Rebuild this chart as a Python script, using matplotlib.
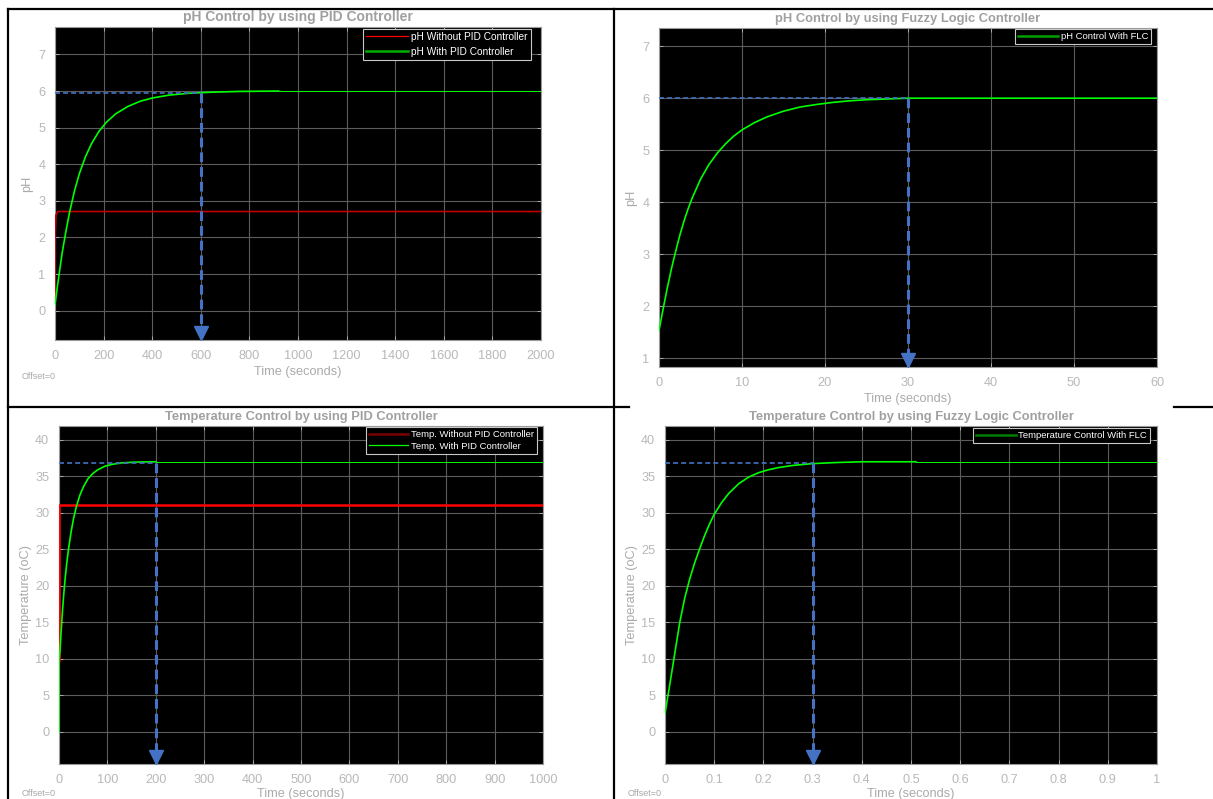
import matplotlib
matplotlib.use("Agg")
import matplotlib.pyplot as plt
from matplotlib.lines import Line2D
from matplotlib.transforms import offset_copy

plt.rcParams['font.family'] = ['Liberation Sans', 'DejaVu Sans']
plt.rcParams['lines.scale_dashes'] = False

# ---- data ----
# pH, PID (seconds)
ph_pid_t = [0, 10, 20, 30, 45, 60, 80, 100, 125, 150, 180, 210, 250, 300, 350, 400, 470, 550,
            650, 760, 920]
ph_pid_y = [0.16, 0.67, 1.14, 1.6, 2.17, 2.69, 3.27, 3.74, 4.2, 4.56, 4.89, 5.14, 5.38, 5.58,
            5.72, 5.81, 5.89, 5.94, 5.97, 5.99, 6.0]
ph_open_t = [0, 0, 2, 4, 12, 2000]
ph_open_y = [0.3, 2.0, 2.3, 2.62, 2.71, 2.71]
ph_pid_tail_t = [920, 2000]
ph_pid_tail_y = [6.0, 6.0]
ph_pid_settle = (600, 5.95)

# pH, FLC (seconds)
ph_flc_t = [0, 0.5, 1, 1.5, 2, 2.5, 3, 3.5, 4, 5, 6, 7, 8, 9, 10, 11.5, 13, 15, 17, 19, 21, 23,
            25, 27.5, 30, 35, 60]
ph_flc_y = [1.53, 1.95, 2.35, 2.72, 3.05, 3.36, 3.63, 3.87, 4.08, 4.44, 4.72, 4.94, 5.12, 5.27,
            5.39, 5.53, 5.64, 5.75, 5.83, 5.88, 5.92, 5.95, 5.97, 5.985, 6.0, 6.0, 6.0]
ph_flc_settle = (30, 6.0)

# Temperature, PID (seconds)
temp_pid_t = [0, 0, 2, 4, 6, 8, 10, 13, 16, 20, 25, 30, 36, 43, 50, 60, 70, 80, 95, 110, 130,
              155, 200]
temp_pid_y = [0, 9.9, 11.0, 13.3, 15.4, 17.3, 19.0, 21.2, 23.1, 25.2, 27.4, 29.2, 30.9, 32.4,
              33.5, 34.7, 35.4, 35.9, 36.4, 36.65, 36.85, 36.95, 37.0]
temp_open_t = [1, 1, 1000]
temp_open_y = [9.8, 31.1, 31.1]
temp_pid_tail_t = [200, 1000]
temp_pid_tail_y = [37.0, 37.0]
temp_pid_settle = (200, 36.9)

# Temperature, FLC (seconds)
temp_flc_t = [0, 0.01, 0.02, 0.03, 0.04, 0.05, 0.06, 0.07, 0.08, 0.09, 0.1, 0.115, 0.13, 0.15,
              0.17, 0.19, 0.21, 0.23, 0.26, 0.3, 0.35, 0.4, 0.51]
temp_flc_y = [2.5, 6.6, 10.8, 15.0, 18.3, 20.9, 23.1, 25.0, 26.8, 28.4, 29.8, 31.4, 32.7, 34.0,
              34.9, 35.5, 35.9, 36.2, 36.5, 36.75, 36.9, 37.0, 37.0]
temp_flc_tail_t = [0.51, 1.0]
temp_flc_tail_y = [37.0, 37.0]
temp_flc_settle = (0.3, 36.8)

W, H = 1213, 799
fig = plt.figure(figsize=(W / 100, H / 100), dpi=100, facecolor='white')

def px_axes(x0, y0, x1, y1):
    return fig.add_axes([x0 / W, 1 - y1 / H, (x1 - x0) / W, (y1 - y0) / H])

TITLE_C = '#a0a0a0'
TICK_C = '#b8b8b8'
LABEL_C = '#aaaaaa'
GRID_C = '#5c5c5c'
BLUE = '#4472C4'
GREEN = '#00ff00'

def style(ax, title, tsize, xlim, ylim, xticks, yticks, xticklabels, ylabel, ylab_x):
    ax.set_facecolor('black')
    ax.set_xlim(*xlim)
    ax.set_ylim(*ylim)
    ax.set_xticks(xticks)
    ax.set_yticks(yticks)
    if xticklabels is not None:
        ax.set_xticklabels(xticklabels)
    ax.grid(True, color=GRID_C, lw=0.8)
    ax.set_axisbelow(True)
    for s in ax.spines.values():
        s.set_color('#9a9a9a')
        s.set_linewidth(0.8)
    ax.tick_params(direction='in', length=3, width=0.6, colors=TICK_C, labelsize=9.2,
                   top=True, right=True, pad=7)
    ax.set_title(title, fontsize=tsize, fontweight='bold', color=TITLE_C, pad=4)
    ax.set_xlabel('Time (seconds)', fontsize=9.2, color=LABEL_C, labelpad=3)
    ax.set_ylabel(ylabel, fontsize=9.2, color=LABEL_C)
    ax.yaxis.set_label_coords(ylab_x, 0.5)

def settle_marker(ax, x, y):
    lo = ax.get_ylim()[0]
    ax.plot([ax.get_xlim()[0], x], [y, y], color=BLUE, lw=1.2, dashes=(3.6, 2.2), zorder=5)
    ax.plot([x, x], [y, lo], color=BLUE, lw=2.2, dashes=(7, 3.6), zorder=5)
    trans = offset_copy(ax.transData, fig=fig, y=5, units='points')
    ax.plot([x], [lo], marker='v', ms=10, color=BLUE, mec=BLUE, transform=trans,
            clip_on=False, zorder=6)

def legend(ax, handles, right, top, fsize, spacing):
    leg = ax.legend(handles=handles, loc='upper right', bbox_to_anchor=(right / W, 1 - top / H),
                    bbox_transform=fig.transFigure, fontsize=fsize, frameon=True,
                    facecolor='black', edgecolor='#c8c8c8', framealpha=1, fancybox=False,
                    handlelength=4.2, handletextpad=0.3, borderpad=0.3, labelspacing=spacing,
                    borderaxespad=0)
    leg.get_frame().set_linewidth(0.8)
    for t in leg.get_texts():
        t.set_color('white')

# ---- top-left: pH with PID ----
ax1 = px_axes(55, 27, 541, 340)
style(ax1, 'pH Control by using PID Controller', 10, (0, 2000), (-0.8, 7.75),
      range(0, 2001, 200), range(0, 8), None, 'pH', -0.045)
ax1.plot(ph_open_t, ph_open_y, color='#c00000', lw=1.2, zorder=3)
ax1.plot(ph_pid_t, ph_pid_y, color=GREEN, lw=1.2, zorder=4)
ax1.plot(ph_pid_tail_t, ph_pid_tail_y, color=GREEN, lw=0.7, zorder=4)
settle_marker(ax1, *ph_pid_settle)
legend(ax1, [Line2D([], [], color='#ff0000', lw=0.9, label='pH Without PID Controller'),
             Line2D([], [], color='#00b000', lw=1.8, label='pH With PID Controller')],
       531, 29, 7.3, 0.45)

# ---- top-right: pH with FLC ----
ax2 = px_axes(659, 28, 1157, 367)
style(ax2, 'pH Control by using Fuzzy Logic Controller', 9.3, (0, 60), (0.83, 7.35),
      range(0, 61, 10), range(1, 8), None, 'pH', -0.044)
ax2.plot(ph_flc_t, ph_flc_y, color=GREEN, lw=1.2, zorder=4)
settle_marker(ax2, *ph_flc_settle)
legend(ax2, [Line2D([], [], color='#00a000', lw=1.8, label='pH Control With FLC')],
       1151, 29, 6.8, 0.2)

# ---- bottom-left: temperature with PID ----
ax3 = px_axes(59, 426, 543, 764)
style(ax3, 'Temperature Control by using PID Controller', 9.3, (0, 1000), (-4.4, 41.9),
      range(0, 1001, 100), range(0, 41, 5), None, 'Temperature (oC)', -0.056)
ax3.plot(temp_open_t, temp_open_y, color='#ff0000', lw=1.8, zorder=3)
ax3.plot(temp_pid_t, temp_pid_y, color=GREEN, lw=1.2, zorder=4)
ax3.plot(temp_pid_tail_t, temp_pid_tail_y, color=GREEN, lw=0.7, zorder=4)
settle_marker(ax3, *temp_pid_settle)
legend(ax3, [Line2D([], [], color='#7a0000', lw=1.8, label='Temp. Without PID Controller'),
             Line2D([], [], color='#00ff00', lw=0.9, label='Temp. With PID Controller')],
       537, 427, 6.8, 0.3)

# ---- bottom-right: temperature with FLC ----
ax4 = px_axes(665, 426, 1157, 764)
xt4 = [i / 10 for i in range(11)]
style(ax4, 'Temperature Control by using Fuzzy Logic Controller', 9.3, (0, 1), (-4.4, 41.9),
      xt4, range(0, 41, 5), ['0'] + ['%.1f' % v for v in xt4[1:-1]] + ['1'],
      'Temperature (oC)', -0.055)
ax4.plot(temp_flc_t, temp_flc_y, color=GREEN, lw=1.2, zorder=4)
ax4.plot(temp_flc_tail_t, temp_flc_tail_y, color=GREEN, lw=0.7, zorder=4)
settle_marker(ax4, *temp_flc_settle)
legend(ax4, [Line2D([], [], color='#008000', lw=1.8, label='Temperature Control With FLC')],
       1150, 428, 6.8, 0.2)

# bottom row x labels sit right at the lower edge of the page
for ax in (ax3, ax4):
    ax.xaxis.set_label_coords(0.5, -0.088)
    ax.xaxis.label.set_va('center')

# ---- "Offset=0" notes ----
for x, y in [(22, 377), (22, 793), (628, 793)]:
    fig.text(x / W, 1 - y / H, 'Offset=0', fontsize=6.5, color='#a8a8a8', va='center')

# ---- table borders ----
def fig_line(x0, y0, x1, y1, lw=1.6):
    fig.add_artist(Line2D([x0 / W, x1 / W], [1 - y0 / H, 1 - y1 / H], color='black',
                          lw=lw, transform=fig.transFigure))

fig_line(8, 9, W, 9)
fig_line(8, 406.5, 629, 406.5)
fig_line(1174, 406.5, W, 406.5)
fig_line(8, 9, 8, H)
fig_line(614, 9, 614, H)

fig.savefig('out.png', dpi=100, facecolor='white')
